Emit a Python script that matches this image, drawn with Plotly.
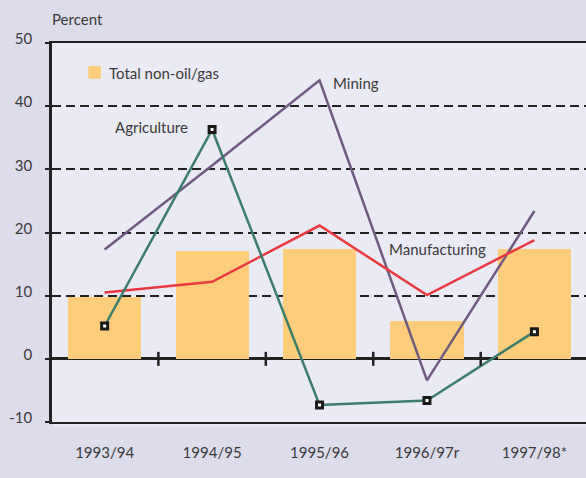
import plotly.graph_objects as go

categories = ["1993/94", "1994/95", "1995/96", "1996/97r", "1997/98*"]
total_non_oil_gas = [9.8, 17.0, 17.4, 6.0, 17.4]
agriculture = [5.2, 36.3, -7.3, -6.6, 4.3]
mining = [17.3, 30.6, 44.1, -3.4, 23.4]
manufacturing = [10.5, 12.2, 21.1, 10.1, 18.8]
y_ticks = [-10, 0, 10, 20, 30, 40, 50]
y_tick_labels = ["-10", "0", "10", "20", "30", "40", "50"]
boundary_ticks = [0.5, 1.5, 2.5, 3.5]
legend_label = "Total non-oil/gas"

xi = list(range(len(categories)))
FONT = "Lato, 'Open Sans', sans-serif"
FS = 15
TXT = "#3a3a3a"
DARK = "#222222"
BAR = "#FECD7B"

fig = go.Figure()
fig.add_trace(go.Bar(x=xi, y=total_non_oil_gas, width=0.68, name=legend_label,
                     marker=dict(color=BAR, line=dict(width=0)), showlegend=False))
fig.add_trace(go.Scatter(x=xi, y=mining, mode="lines", name="Mining",
                         line=dict(color="#6F5B80", width=2.5), showlegend=False))
fig.add_trace(go.Scatter(x=xi, y=manufacturing, mode="lines", name="Manufacturing",
                         line=dict(color="#E83A40", width=2.5), showlegend=False))
fig.add_trace(go.Scatter(x=xi, y=agriculture, mode="lines+markers", name="Agriculture",
                         line=dict(color="#3B7E6C", width=2.5),
                         marker=dict(symbol="square", size=6, color="white",
                                     line=dict(color="#1a1a1a", width=3)),
                         showlegend=False))
# tick marks on the zero line at category boundaries
fig.add_trace(go.Scatter(x=boundary_ticks, y=[0] * len(boundary_ticks), mode="markers",
                         marker=dict(symbol="line-ns", size=10, line=dict(color=DARK, width=2.5)),
                         showlegend=False, hoverinfo="skip"))

fig.update_layout(
    width=586, height=478,
    margin=dict(l=52, r=0, t=43, b=56, autoexpand=False),
    paper_bgcolor="#DCDCEB",
    plot_bgcolor="#EAEAF4",
    font=dict(family=FONT, size=FS, color=TXT),
    bargap=0,
    showlegend=False,
    xaxis=dict(range=[-0.49, 4.48], tickvals=xi, ticktext=categories, showgrid=False,
               zeroline=False, showline=True, linecolor=DARK, linewidth=2, mirror=True,
               ticks="", ticklabelstandoff=16, tickfont=dict(size=FS, color=TXT),
               automargin=False),
    yaxis=dict(range=[-10, 50], tickvals=y_ticks, ticktext=y_tick_labels, showgrid=True,
               gridcolor=DARK, gridwidth=2,
               griddash="9px,5px", zeroline=True, zerolinecolor=DARK, zerolinewidth=2.5,
               showline=True, linecolor=DARK, linewidth=2.5, ticks="outside", ticklen=4,
               tickwidth=2, tickcolor=DARK, ticklabelstandoff=10, ticklabelshift=-4,
               tickfont=dict(size=FS, color=TXT), automargin=False),
    annotations=[
        dict(text="Percent", xref="paper", yref="paper", x=-0.004, y=1.0625,
             xanchor="left", yanchor="middle", showarrow=False, font=dict(size=FS, color=TXT)),
        dict(text=legend_label, xref="paper", yref="paper", x=0.1024, y=0.921,
             xanchor="left", yanchor="middle", showarrow=False, font=dict(size=FS, color=TXT)),
        dict(text="Agriculture", xref="x", yref="y", x=0.44, y=36.7,
             xanchor="center", yanchor="middle", showarrow=False, font=dict(size=FS, color=TXT)),
        dict(text="Mining", xref="x", yref="y", x=2.11, y=43.6,
             xanchor="left", yanchor="middle", showarrow=False, font=dict(size=FS, color=TXT)),
        dict(text="Manufacturing", xref="x", yref="y", x=2.625, y=17.4,
             xanchor="left", yanchor="middle", showarrow=False, font=dict(size=FS, color=TXT)),
    ],
    shapes=[
        dict(type="rect", xref="paper", yref="paper", x0=0.003, x1=1, y0=-0.012, y1=0,
             fillcolor="#EAEAF4", line=dict(width=0), layer="below"),
        dict(type="rect", xref="paper", yref="paper", x0=0.068, x1=0.0918, y0=0.906, y1=0.939,
             fillcolor=BAR, line=dict(width=0)),
    ],
)

fig.write_html("out.html", config={"displayModeBar": False},
               post_script="document.body.style.margin='0';document.body.style.overflow='hidden';")
